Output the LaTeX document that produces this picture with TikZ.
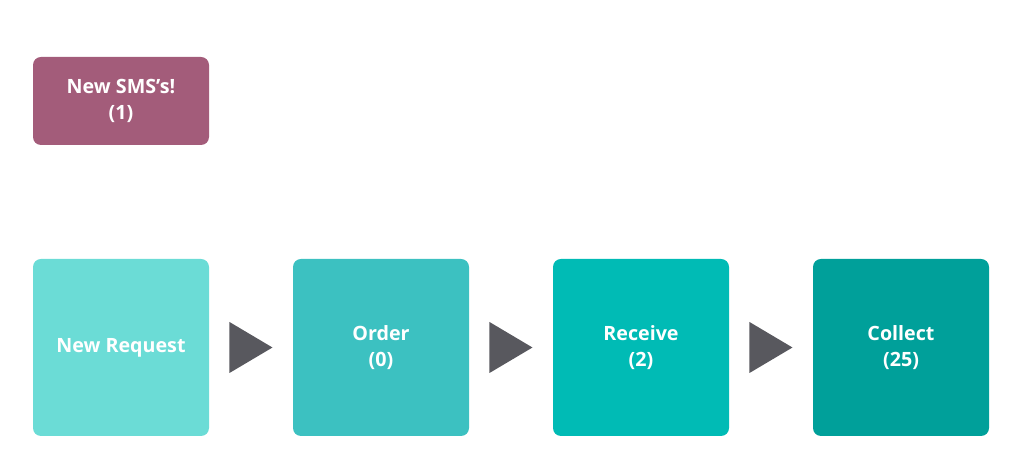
\documentclass[tikz,border=0pt]{standalone}
\usepackage{fontspec}
\setmainfont{Open Sans}
\usetikzlibrary{shapes.geometric, positioning}
\definecolor{smsc}{HTML}{A35C7A}
\definecolor{stagea}{HTML}{6BDCD6}
\definecolor{stageb}{HTML}{3CC1C1}
\definecolor{stagec}{HTML}{00BBB5}
\definecolor{staged}{HTML}{00A09A}
\definecolor{pointer}{HTML}{58585E}
\tikzset{
  box/.style={rounded corners=0.2cm, text=white, align=center, inner sep=0pt,
    minimum width=4.4cm, font=\fontsize{14}{19}\selectfont\bfseries},
  stagebox/.style={box, minimum height=4.425cm},
  pointer/.style={isosceles triangle, isosceles triangle apex angle=80, fill=pointer,
    inner sep=0pt, minimum height=1.075cm, minimum width=1.275cm, isosceles triangle stretches}
}
\begin{document}
\begin{tikzpicture}
  \useasboundingbox (0, 0) rectangle (25.6, 11.7);

  \node[box, fill=smsc, minimum height=2.2cm] (sms) at (3.025, 9.175) {New SMS\char"0027 s!\\(1)};

  \node[stagebox, fill=stagea] (req) at (3.025, 3.0125) {New Request};
  \node[stagebox, fill=stageb] (order) at (9.525, 3.0125) {Order\\(0)};
  \node[stagebox, fill=stagec] (recv) at (16.025, 3.0125) {Receive\\(2)};
  \node[stagebox, fill=staged] (coll) at (22.525, 3.0125) {Collect\\(25)};

  \node[pointer] (p1) at (6.1, 3.0125) {};
  \node[pointer] (p2) at (12.6, 3.0125) {};
  \node[pointer] (p3) at (19.1, 3.0125) {};
\end{tikzpicture}
\end{document}
